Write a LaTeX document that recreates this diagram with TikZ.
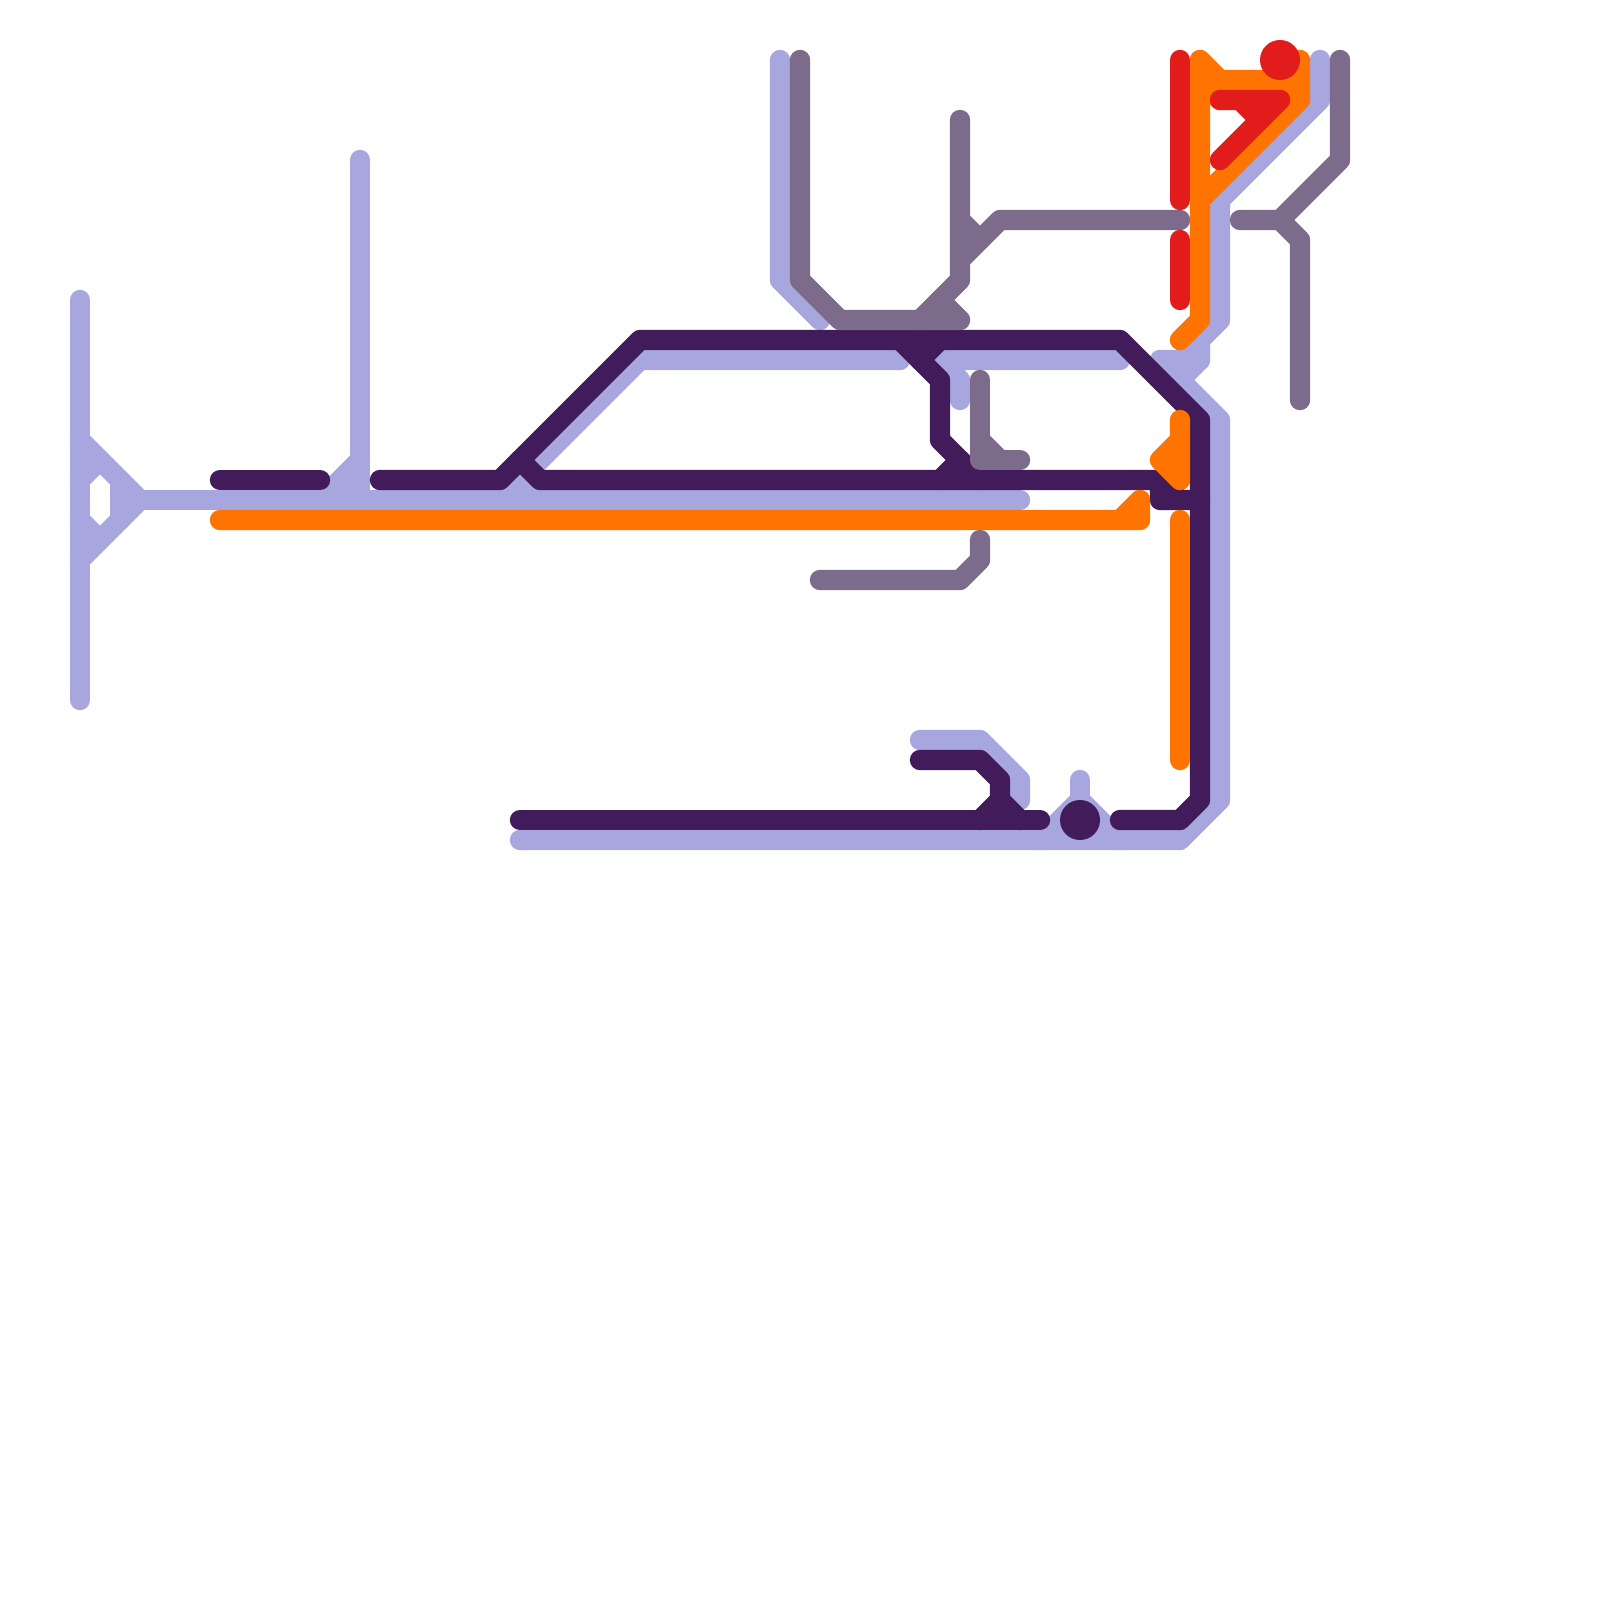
\documentclass[tikz,border=0pt]{standalone}
\definecolor{lblue}{HTML}{A7A6DF}
\definecolor{dpurple}{HTML}{421C5A}
\definecolor{gpurple}{HTML}{7D6B8B}
\definecolor{lorange}{HTML}{FF7300}
\definecolor{lred}{HTML}{E21B1B}
\tikzset{
  route/.style={line width=0.204cm,line cap=round,line join=round},
  bluer/.style={route,draw=lblue},
  purpler/.style={route,draw=dpurple},
  greyr/.style={route,draw=gpurple},
  oranger/.style={route,draw=lorange},
  redr/.style={route,draw=lred},
}
\begin{document}
\begin{tikzpicture}[x=0.01cm,y=-0.01cm]
\useasboundingbox (0,0) rectangle (1600,1600);
% light blue
\draw[bluer] (80,300) -- (80,700);
\draw[bluer] (80,440) -- (140,500) -- (80,560);
\draw[bluer] (80,480) -- (100,460);
\draw[bluer] (80,520) -- (100,540);
\draw[bluer] (120,480) -- (120,520);
\draw[bluer] (140,500) -- (1020,500);
\draw[bluer] (360,160) -- (360,500);
\draw[bluer] (320,500) -- (360,460);
\draw[bluer] (340,500) -- (360,480);
\draw[bluer] (500,500) -- (640,360) -- (900,360);
\draw[bluer] (520,480) -- (540,500);
\draw[bluer] (960,400) -- (960,380) -- (940,360) -- (1120,360);
\draw[bluer] (780,60) -- (780,280) -- (820,320);
\draw[bluer] (520,840) -- (1180,840) -- (1220,800) -- (1220,420) -- (1160,360) -- (1200,360);
\draw[bluer] (1320,60) -- (1320,100) -- (1220,200) -- (1220,320) -- (1180,360);
\draw[bluer] (1200,340) -- (1200,360) -- (1180,380);
\draw[bluer] (920,740) -- (980,740) -- (1020,780) -- (1020,800);
\draw[bluer] (1080,780) -- (1080,800);
\draw[bluer] (1040,840) -- (1080,800) -- (1120,840);
% dark purple
\draw[purpler] (220,480) -- (320,480);
\draw[purpler] (380,480) -- (500,480) -- (640,340) -- (1120,340) -- (1200,420) -- (1200,800) -- (1180,820) -- (1120,820);
\draw[purpler] (520,460) -- (540,480) -- (1160,480) -- (1160,500) -- (1200,500);
\draw[purpler] (1160,480) -- (1180,500);
\draw[purpler] (900,340) -- (940,380) -- (940,440) -- (980,480);
\draw[purpler] (940,340) -- (920,360);
\draw[purpler] (960,460) -- (940,480);
\draw[purpler] (920,760) -- (980,760) -- (1000,780) -- (1000,800) -- (1020,820);
\draw[purpler] (1000,800) -- (980,820);
\draw[purpler] (520,820) -- (1040,820);
\fill[dpurple] (1080,820) circle[radius=0.2cm];
% grey purple
\draw[greyr] (800,60) -- (800,280) -- (840,320) -- (960,320) -- (940,300);
\draw[greyr] (960,120) -- (960,280) -- (920,320);
\draw[greyr] (960,220) -- (980,240);
\draw[greyr] (960,260) -- (1000,220) -- (1180,220);
\draw[greyr] (980,380) -- (980,460) -- (1020,460);
\draw[greyr] (980,440) -- (1000,460);
\draw[greyr] (980,540) -- (980,560) -- (960,580) -- (820,580);
\draw[greyr] (1340,60) -- (1340,160) -- (1280,220) -- (1240,220);
\draw[greyr] (1280,220) -- (1300,240) -- (1300,400);
% orange
\draw[oranger] (220,520) -- (1140,520) -- (1140,500) -- (1120,520);
\draw[oranger] (1180,420) -- (1180,480) -- (1160,460) -- (1180,440);
\draw[oranger] (1180,520) -- (1180,760);
\draw[oranger] (1180,340) -- (1200,320) -- (1200,60) -- (1220,80) -- (1300,80);
\draw[oranger] (1300,60) -- (1300,100) -- (1200,200);
\draw[oranger] (1300,80) -- (1280,100);
\draw[oranger] (1200,80) -- (1220,100);
% red
\draw[redr] (1180,60) -- (1180,200);
\draw[redr] (1180,240) -- (1180,300);
\draw[redr] (1220,100) -- (1280,100) -- (1220,160);
\draw[redr] (1240,100) -- (1260,120);
\fill[lred] (1280,60) circle[radius=0.2cm];
\end{tikzpicture}
\end{document}
